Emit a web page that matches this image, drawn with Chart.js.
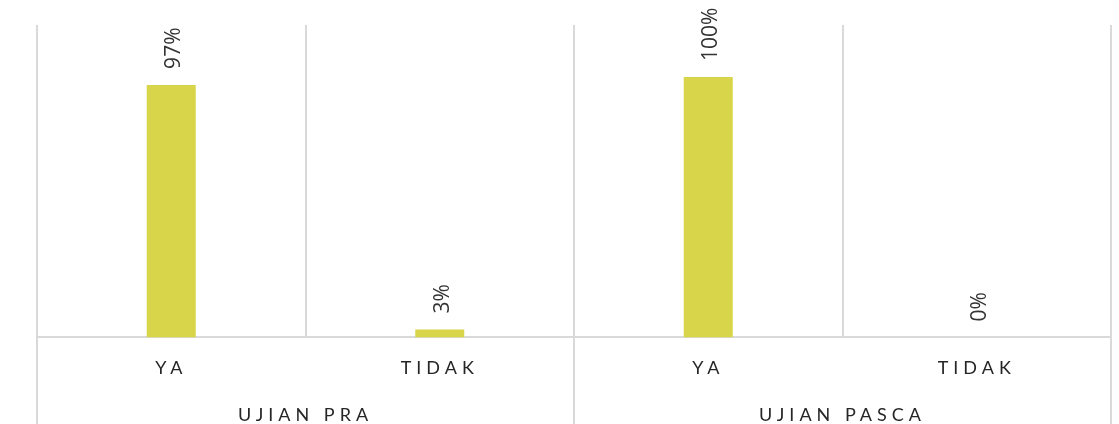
<!DOCTYPE html>
<html>
<head>
<meta charset="utf-8">
<script src="https://cdn.jsdelivr.net/npm/chart.js@4.4.0/dist/chart.umd.min.js"></script>
<style>
  html, body { margin: 0; padding: 0; background: #ffffff; }
  #wrap { width: 1119px; height: 424px; position: relative; }
</style>
</head>
<body>
<div id="wrap"><canvas id="c"></canvas></div>
<script>
const categories = ['YA', 'TIDAK', 'YA', 'TIDAK'];
const groups = ['UJIAN PRA', 'UJIAN PASCA'];
const values = [97, 3, 100, 0];
const valueLabels = ['97%', '3%', '100%', '0%'];

const gridColor = '#d9d9d9';
const barColor = '#d9d54a';

const spacingPlugin = {
  id: 'spacing',
  beforeDraw(chart) { chart.ctx.letterSpacing = '5px'; },
  beforeDatasetsDraw(chart) { chart.ctx.letterSpacing = '0px'; }
};

const valueLabelPlugin = {
  id: 'valueLabels',
  afterDatasetsDraw(chart) {
    const ctx = chart.ctx;
    const meta = chart.getDatasetMeta(0);
    meta.data.forEach((el, i) => {
      ctx.save();
      ctx.letterSpacing = '0px';
      ctx.translate(el.x, el.y - 16);
      ctx.rotate(-Math.PI / 2);
      ctx.font = '21px "Open Sans"';
      ctx.fillStyle = '#333333';
      ctx.textAlign = 'left';
      ctx.textBaseline = 'alphabetic';
      ctx.fillText(valueLabels[i], 0, 9);
      ctx.restore();
    });
  }
};

new Chart(document.getElementById('c'), {
  type: 'bar',
  data: {
    labels: categories,
    datasets: [{
      data: values,
      backgroundColor: barColor,
      borderWidth: 0,
      categoryPercentage: 1,
      barPercentage: 0.1825
    }]
  },
  options: {
    responsive: true,
    maintainAspectRatio: false,
    animation: false,
    layout: { padding: { top: 25, left: 37, right: 8, bottom: 0 } },
    plugins: { legend: { display: false }, tooltip: { enabled: false } },
    scales: {
      y: { display: false, min: 0, max: 120 },
      x: {
        type: 'category',
        offset: true,
        grid: {
          offset: true,
          color: gridColor,
          lineWidth: 2,
          tickLength: 168.7,
          tickColor: (c) => (c.index === 1 || c.index === 3) ? 'rgba(0,0,0,0)' : gridColor
        },
        border: { display: true, color: gridColor, width: 2 },
        ticks: {
          mirror: true,
          padding: -41.8,
          maxRotation: 0,
          autoSkip: false,
          color: '#262626',
          font: { family: 'Lato', size: 18 }
        }
      },
      x2: {
        type: 'category',
        position: 'bottom',
        labels: groups,
        offset: true,
        grid: { display: false, drawOnChartArea: false },
        border: { display: false },
        ticks: {
          mirror: true,
          padding: -3.25,
          maxRotation: 0,
          autoSkip: false,
          color: '#262626',
          font: { family: 'Lato', size: 18, lineHeight: 1.15 }
        }
      }
    }
  },
  plugins: [spacingPlugin, valueLabelPlugin]
});
</script>
</body>
</html>
